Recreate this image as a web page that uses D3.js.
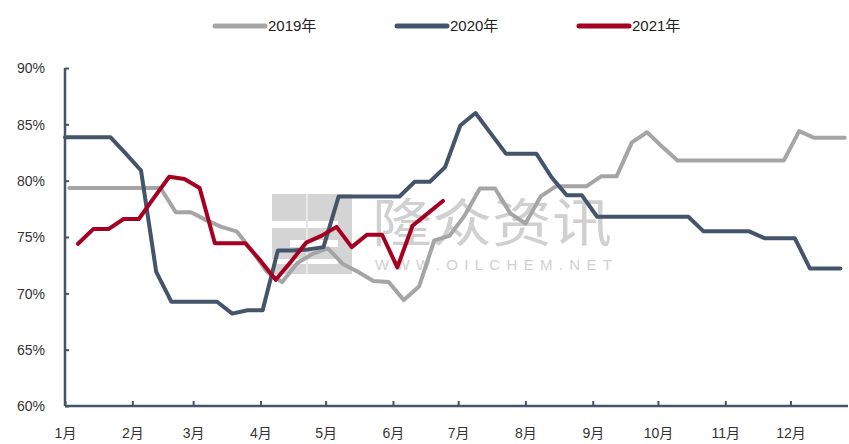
<!DOCTYPE html>
<html>
<head>
<meta charset="utf-8">
<script src="https://cdn.jsdelivr.net/npm/d3@7"></script>
<style>
  body { margin: 0; background: #fff; }
  svg { display: block; font-family: "Liberation Sans", Arial, "Noto Sans CJK SC", sans-serif; }
</style>
</head>
<body>
<div id="chart"></div>
<script>
// weekly operating rate (%), x is day of year of each weekly reading
var seriesNames = ['2019年', '2020年', '2021年'];
var firstDay = [2, 0, 6];

var rate2019 = [79.35, 79.35, 79.35, 79.35, 79.35, 79.35, 79.35, 77.2, 77.2, 76.5,
                75.9, 75.5, 73.8, 71.9, 71.0, 72.7, 73.5, 74.0, 72.6, 71.9,
                71.1, 71.0, 69.4, 70.6, 74.7, 75.1, 76.9, 79.3, 79.3, 77.1,
                76.2, 78.6, 79.5, 79.5, 79.5, 80.4, 80.4, 83.4, 84.3, 83.0,
                81.8, 81.8, 81.8, 81.8, 81.8, 81.8, 81.8, 81.8, 84.4, 83.8,
                83.8, 83.8];
var rate2020 = [83.85, 83.85, 83.85, 83.85, 82.4, 80.9, 71.9, 69.25, 69.25, 69.25,
                69.25, 68.2, 68.5, 68.5, 73.8, 73.8, 73.9, 74.1, 78.6, 78.6,
                78.6, 78.6, 78.6, 79.9, 79.9, 81.2, 84.9, 86.0, 84.2, 82.4,
                82.4, 82.4, 80.3, 78.7, 78.7, 76.8, 76.8, 76.8, 76.8, 76.8,
                76.8, 76.8, 75.5, 75.5, 75.5, 75.5, 74.9, 74.9, 74.9, 72.2,
                72.2, 72.2];
var rate2021 = [74.4, 75.7, 75.7, 76.6, 76.6, 78.5, 80.35, 80.15, 79.35, 74.45,
                74.45, 74.45, 72.9, 71.2, 72.8, 74.5, 75.1, 75.9, 74.1, 75.2,
                75.2, 72.3, 76.0, 77.1, 78.2];

var monthStartDay = [0, 31, 59, 90, 120, 151, 181, 212, 243, 273, 304, 334];
var monthLabels = ['1月', '2月', '3月', '4月', '5月', '6月', '7月', '8月', '9月', '10月', '11月', '12月'];
var yTicks = [60, 65, 70, 75, 80, 85, 90];

var colors = ['#a5a5a5', '#44546a', '#a50021'];
var axisColor = '#44546a';

var width = 849, height = 444;
var svg = d3.select('#chart').append('svg')
    .attr('width', width)
    .attr('height', height);

var xScale = d3.scaleLinear().domain([0, 360.5]).range([65, 848]);
var yScale = d3.scaleLinear().domain([60, 90]).range([406, 68]);

// watermark
var wm = svg.append('g').attr('class', 'watermark');
wm.append('rect').attr('x', 272).attr('y', 194).attr('width', 80).attr('height', 80)
    .attr('fill', '#d4d4d4');
wm.append('rect').attr('x', 272).attr('y', 221).attr('width', 66).attr('height', 7).attr('fill', '#fff');
wm.append('rect').attr('x', 290).attr('y', 240).attr('width', 48).attr('height', 7).attr('fill', '#fff');
wm.append('rect').attr('x', 272).attr('y', 259).attr('width', 66).attr('height', 5).attr('fill', '#fff');
wm.append('rect').attr('x', 306).attr('y', 194).attr('width', 2).attr('height', 80).attr('fill', '#e8e8e8');
wm.append('text')
    .attr('x', 372).attr('y', 242)
    .attr('textLength', 240)
    .attr('lengthAdjust', 'spacingAndGlyphs')
    .style('font-family', '"Noto Sans CJK SC", sans-serif')
    .style('font-size', '52px')
    .style('font-weight', 400)
    .attr('fill', '#d0d0d0')
    .text('隆众资讯');
wm.append('text')
    .attr('x', 375).attr('y', 270)
    .attr('textLength', 237)
    .attr('lengthAdjust', 'spacing')
    .style('font-size', '15px')
    .attr('fill', '#d0d0d0')
    .text('WWW.OILCHEM.NET');

// axes
var yAxis = d3.axisLeft(yScale)
    .tickValues(yTicks)
    .tickSize(-4)
    .tickPadding(20)
    .tickFormat(function(d) { return d + '%'; });
var gy = svg.append('g')
    .attr('transform', 'translate(65,0)')
    .call(yAxis);

var xAxis = d3.axisBottom(xScale)
    .tickValues(monthStartDay)
    .tickSize(-5)
    .tickPadding(22)
    .tickFormat(function(d, i) { return monthLabels[i]; });
var gx = svg.append('g')
    .attr('transform', 'translate(0,406)')
    .call(xAxis);

[gy, gx].forEach(function(g) {
    g.select('.domain').attr('stroke', axisColor).attr('stroke-width', 2.5);
    g.selectAll('.tick line').attr('stroke', axisColor).attr('stroke-width', 2);
    g.selectAll('.tick text')
        .attr('fill', '#333')
        .style('font-size', '14px')
        .style('font-family', '"Liberation Sans", Arial, "Noto Sans CJK SC", sans-serif');
});
gx.select('.domain').attr('d', 'M65,0H848');
gy.select('.domain').attr('d', 'M0,68V406');
gy.selectAll('.tick text').attr('dy', '0.35em');

// lines
var allSeries = [rate2019, rate2020, rate2021];
var line = d3.line()
    .x(function(d) { return xScale(d.day); })
    .y(function(d) { return yScale(d.value); });

allSeries.forEach(function(values, s) {
    var pts = values.map(function(v, i) {
        return {day: firstDay[s] + 7 * i, value: v};
    });
    svg.append('path')
        .datum(pts)
        .attr('d', line)
        .attr('fill', 'none')
        .attr('stroke', colors[s])
        .attr('stroke-width', 4)
        .attr('stroke-linejoin', 'round')
        .attr('stroke-linecap', 'round');
});

// legend
var legendX = [215, 397, 579];
var legend = svg.append('g').attr('class', 'legend');
seriesNames.forEach(function(name, s) {
    legend.append('line')
        .attr('x1', legendX[s]).attr('x2', legendX[s] + 50)
        .attr('y1', 26).attr('y2', 26)
        .attr('stroke', colors[s])
        .attr('stroke-width', 5)
        .attr('stroke-linecap', 'round');
    legend.append('text')
        .attr('x', legendX[s] + 53)
        .attr('y', 31)
        .attr('fill', '#222')
        .style('font-size', '15px')
        .text(name);
});
</script>
</body>
</html>
